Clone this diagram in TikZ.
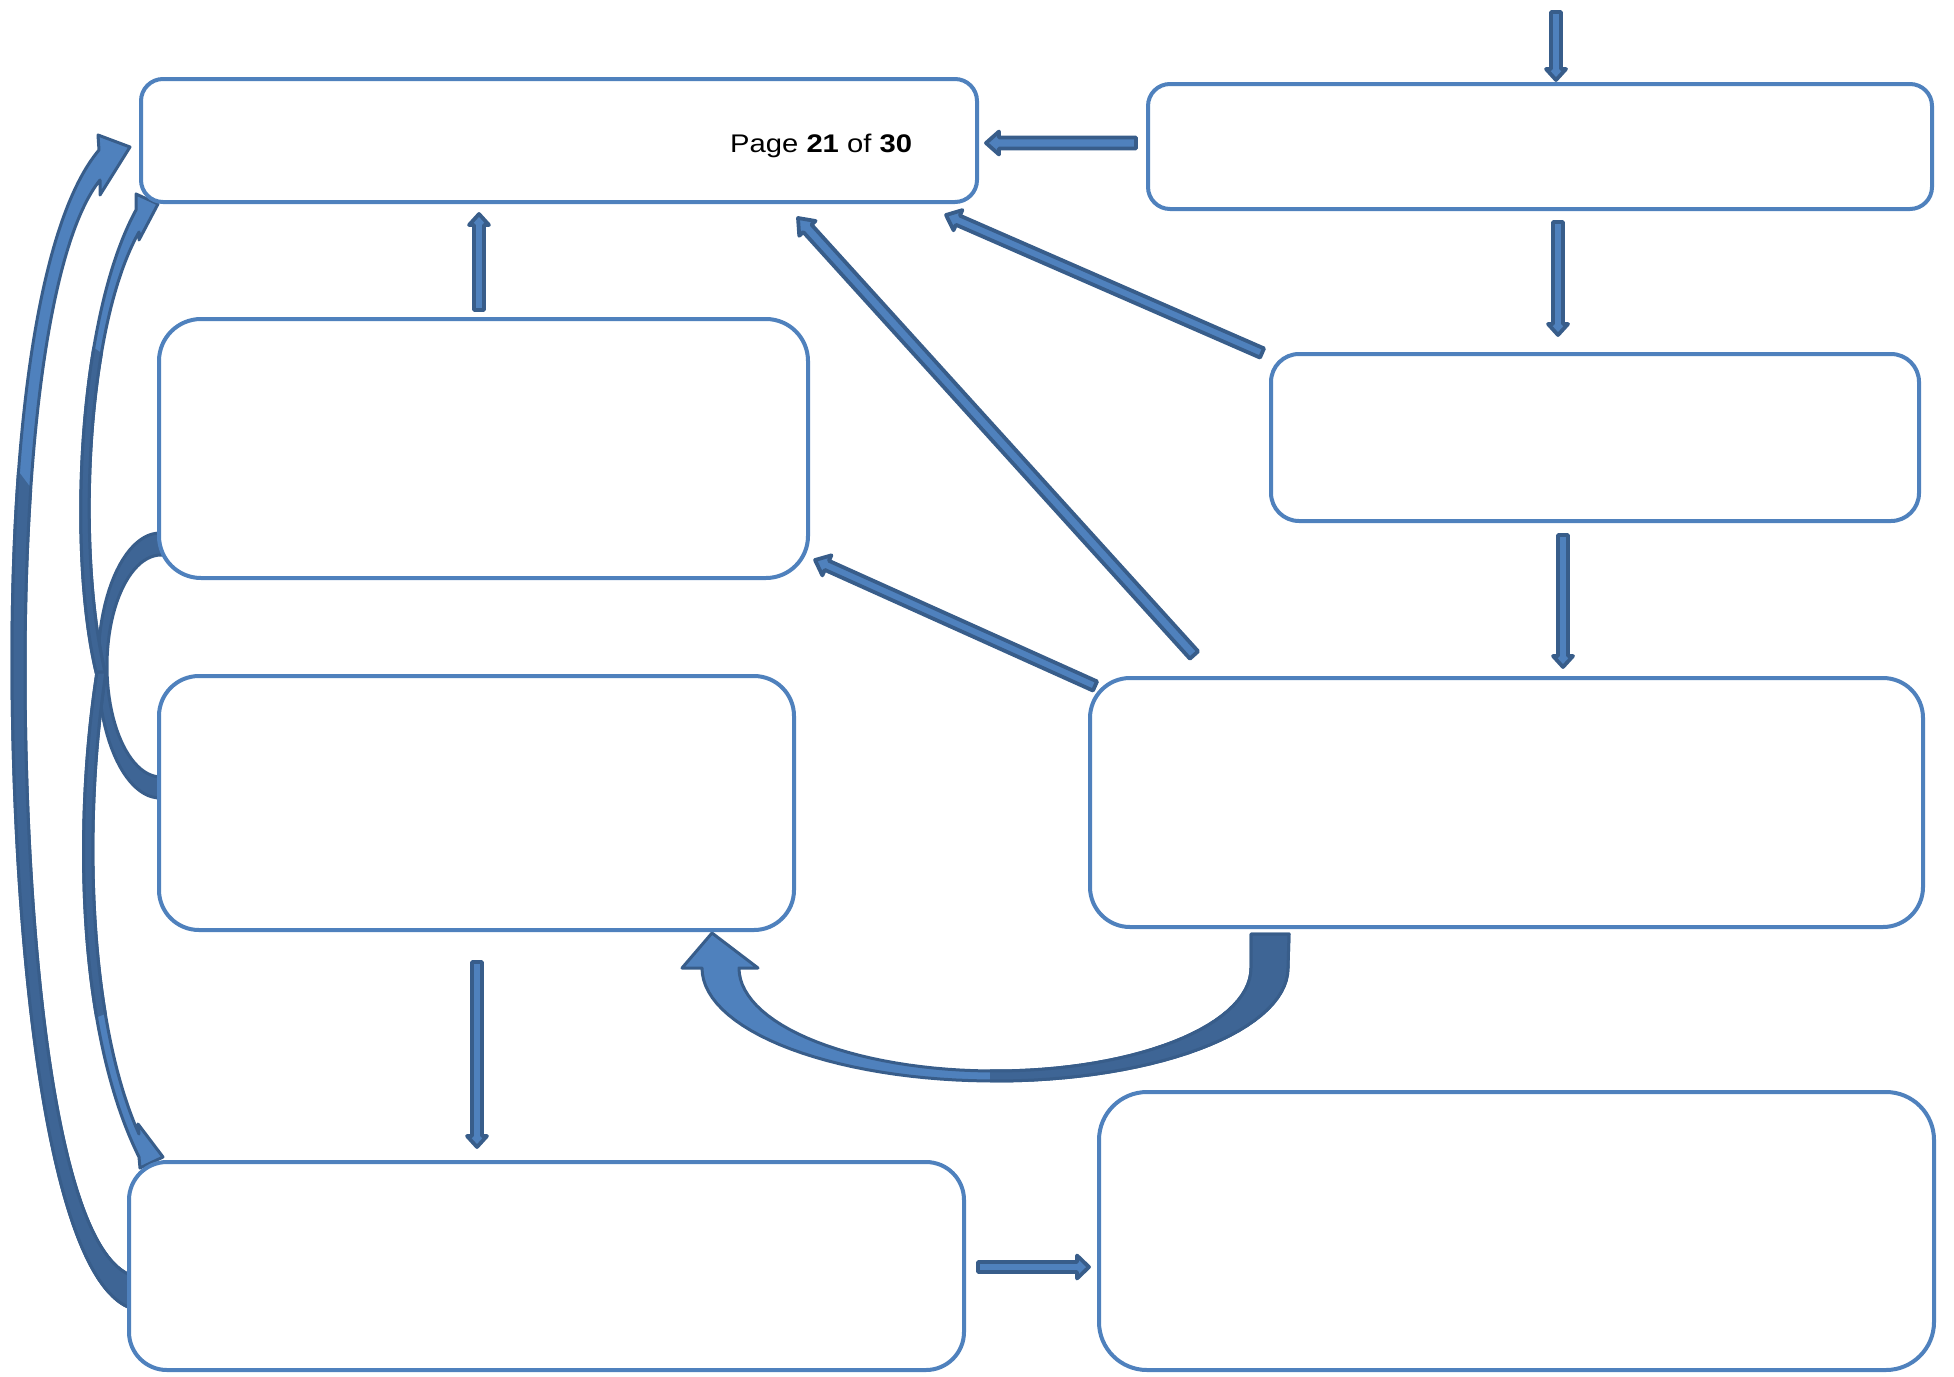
\documentclass[tikz,border=0pt]{standalone}
\usepackage{fontspec}
\setmainfont{Liberation Sans}
\usetikzlibrary{calc}
\definecolor{boxblue}{RGB}{79,129,189}
\definecolor{arrlight}{RGB}{79,129,189}
\definecolor{arrdark}{RGB}{56,93,138}
\definecolor{arrback}{RGB}{62,101,149}
\pgfdeclarelayer{bg}
\pgfsetlayers{bg,main}
\tikzset{
  box/.style={draw=boxblue, line width=4pt, fill=white, rounded corners=#1, inner sep=0pt, outer sep=0pt},
  blockarr/.style={fill=arrlight, draw=arrdark, line width=3.8pt, line join=round},
  curvedarr/.style={fill=arrlight, draw=arrdark, line width=3pt, line join=round},
  backarr/.style={fill=arrback, draw=arrdark, line width=3pt, line join=round},
}
% block arrow: from, to, half shaft, half head, head length
\newcommand\blkarrow[5]{%
  \path[blockarr] let \p1=(#1), \p2=(#2), \n1={atan2(\y2-\y1,\x2-\x1)}, \n2={veclen(\x2-\x1,\y2-\y1)} in
  [shift={(\p1)}, rotate=\n1]
  (0pt,-#3pt) -- (\n2*1pt-#5pt,-#3pt) -- (\n2*1pt-#5pt,-#4pt) -- (\n2*1pt,0pt) -- (\n2*1pt-#5pt,#4pt) -- (\n2*1pt-#5pt,#3pt) -- (0pt,#3pt) -- cycle;}
\newcommand\pathone{(133,1309) .. controls (40,1280) and (12,900) .. (12,660) .. controls (12,420) and (40,220) .. (99,150) -- (98,135) -- (130,147) -- (100,195) -- (100,180) .. controls (52,240) and (25,430) .. (25,670) .. controls (25,900) and (50,1250) .. (133,1276) -- cycle}
\newcommand\pathtwoa{(97,676) .. controls (68,560) and (76,320) .. (136,210) -- (136,194) -- (158,204) -- (139,240) -- (139,232) .. controls (84,330) and (77,560) .. (106,676) -- cycle}
\newcommand\pathtwob{(97,672) .. controls (74,820) and (76,1030) .. (139,1157) -- (140,1168) -- (163,1157) -- (138,1124) -- (139,1134) .. controls (88,1020) and (83,820) .. (106,672) -- cycle}
\newcommand\paththree{(170,533) -- plot[domain=270:90, samples=50] ({160+62*cos(\x)},{665.5+132.5*sin(\x)}) -- (170,798) -- (170,777) -- plot[domain=90:270, samples=50] ({161+54*cos(\x)},{666+111*sin(\x)}) -- (170,555) -- cycle}
\newcommand\pathfour{(1289,934) -- plot[domain=0:180, samples=60] ({995+293*cos(\x)},{968+113*sin(\x)}) -- (682,968) -- (712,933) -- (758,968) -- plot[domain=180:0, samples=60] ({995+256*cos(\x)},{968+103*sin(\x)}) -- (1251,934) -- cycle}
\begin{document}
\begin{tikzpicture}[x=1pt, y=-1pt]
\useasboundingbox (0,0) rectangle (1954,1376);
% boxes
\node[box=22pt, minimum width=836pt, minimum height=123pt] (A) at (559,140.5) {};
\node[box=22pt, minimum width=784pt, minimum height=125pt] (B) at (1540,146.5) {};
\node[box=28pt, minimum width=648pt, minimum height=167pt] (C) at (1595,437.5) {};
\node[box=42pt, minimum width=649pt, minimum height=259pt] (D) at (483.5,448.5) {};
\node[box=40pt, minimum width=635pt, minimum height=254pt] (E) at (476.5,803) {};
\node[box=40pt, minimum width=833pt, minimum height=249pt] (F) at (1506.5,802.5) {};
\node[box=38pt, minimum width=835pt, minimum height=208pt] (G) at (546.5,1266) {};
\node[box=48pt, minimum width=835pt, minimum height=278pt] (H) at (1516.5,1231) {};
\node[anchor=base west, inner sep=0pt, font=\fontsize{25.5}{30}\selectfont] (pg) at ($(A.west)+(589,11.5)$) {\scalebox{1.145}[1]{Page \textbf{21} of \textbf{30}}};
% arrow end points
\coordinate (tB) at ($(B.north)+(16,-72)$);
\coordinate (hB) at ($(B.north)+(16,-4)$);
\coordinate (tBA) at ($(B.west)+(-12,-3.5)$);
\coordinate (hBA) at ($(A.east)+(9,2.5)$);
\coordinate (tDA) at ($(D.north)+(-4.5,-9)$);
\coordinate (hDA) at ($(A.south)+(-80,12)$);
\coordinate (tBC) at ($(B.south)+(18,13)$);
\coordinate (hBC) at ($(C.north)+(-37,-19)$);
\coordinate (tCF) at ($(C.south)+(-32,14)$);
\coordinate (hCF) at ($(F.north)+(56.5,-11)$);
\coordinate (tCA) at ($(C.north west)+(-9,-1)$);
\coordinate (hCA) at ($(A.south east)+(-31,13)$);
\coordinate (tFA) at ($(F.north west)+(104,-23)$);
\coordinate (hFA) at ($(A.south)+(239,16)$);
\coordinate (tFD) at ($(F.north west)+(5,8)$);
\coordinate (hFD) at ($(D.south east)+(7,-18)$);
\coordinate (tEG) at ($(E.south)+(0.5,32)$);
\coordinate (hEG) at ($(G.north)+(-69.5,-15)$);
\coordinate (tGH) at ($(G.east)+(14,1)$);
\coordinate (hGH) at ($(H.west)+(-10,36)$);
\begin{pgfonlayer}{bg}
  % left curved arrows
  \filldraw[curvedarr] \pathone;
  \begin{scope}
    \clip (-20,420) -- (70,540) -- (200,540) -- (200,1400) -- (-20,1400) -- cycle;
    \filldraw[backarr] \pathone;
  \end{scope}
  \filldraw[backarr] \paththree;
  \filldraw[curvedarr] \pathtwoa;
  \begin{scope}
    \clip (40,310) -- (140,380) -- (140,700) -- (40,700) -- cycle;
    \filldraw[backarr] \pathtwoa;
  \end{scope}
  \filldraw[curvedarr] \pathtwob;
  \begin{scope}
    \clip (40,650) -- (140,650) -- (140,1000) -- (40,1040) -- cycle;
    \filldraw[backarr] \pathtwob;
  \end{scope}
  % bottom curved arrow F -> E
  \filldraw[curvedarr] \pathfour;
  \begin{scope}
    \clip (990,900) rectangle (1330,1110);
    \filldraw[backarr] \pathfour;
  \end{scope}
  % straight block arrows
  \blkarrow{tB}{hB}{5}{10}{11}
  \blkarrow{tBA}{hBA}{5.5}{11.5}{13}
  \blkarrow{tDA}{hDA}{5}{10}{11}
  \blkarrow{tBC}{hBC}{5}{10}{11}
  \blkarrow{tCF}{hCF}{5}{10}{11}
  \blkarrow{tCA}{hCA}{5}{11}{13}
  \blkarrow{tFA}{hFA}{5.5}{11}{14}
  \blkarrow{tFD}{hFD}{5}{11}{13}
  \blkarrow{tEG}{hEG}{5}{10}{11}
  \blkarrow{tGH}{hGH}{5}{11.5}{12}
\end{pgfonlayer}
\end{tikzpicture}
\end{document}
